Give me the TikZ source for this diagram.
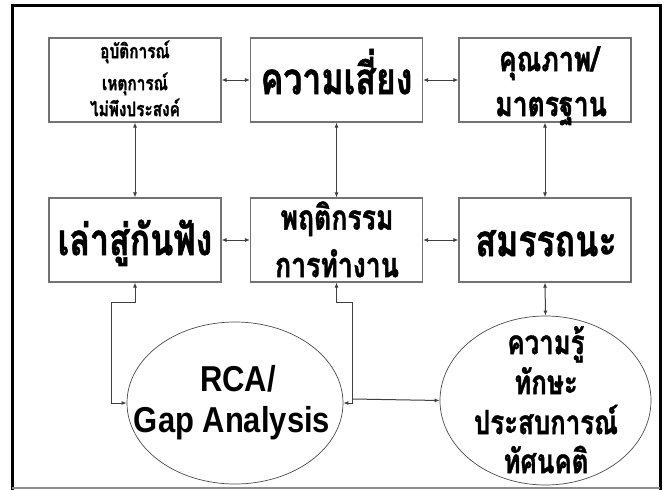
\documentclass[tikz,border=0pt]{standalone}
\usepackage{fontspec}
\usetikzlibrary{arrows.meta,shapes.geometric}
\newfontfamily\thai[Script=Thai,FakeStretch=0.77,BoldFeatures={FakeBold=1.2}]{Loma}
\newfontfamily\arialc[FakeStretch=0.86]{Liberation Sans}
\tikzset{
  x=1pt,y=-1pt,
  boxst/.style={draw=black!55,line width=1.1pt,minimum width=172pt,minimum height=84pt,inner sep=0pt},
  ellst/.style={draw=black!70,line width=0.7pt,ellipse,inner sep=0pt},
  txt/.style={inner sep=0pt,anchor=mid},
  conn/.style={draw=black!75,line width=1pt},
  tip/.tip={Latex[length=5pt,width=4pt]},
  dbl/.style={conn,tip-tip},
  sgl/.style={conn,-tip},
  bigt/.style={txt,font=\thai\bfseries\fontsize{44}{48}\selectfont},
  midt/.style={txt,font=\thai\bfseries\fontsize{34.5}{40}\selectfont},
  smallt/.style={txt,font=\thai\bfseries\fontsize{20}{24}\selectfont},
  ellt/.style={txt,font=\thai\bfseries\fontsize{33.5}{40}\selectfont},
  latt/.style={inner sep=0pt,anchor=base,font=\arialc\bfseries\fontsize{36}{44}\selectfont},
}
\begin{document}
\begin{tikzpicture}
\useasboundingbox (0,0) rectangle (665,490);
\fill[white] (0,0) rectangle (665,490);
% frame
\draw[line width=3pt,line cap=rect] (12,490) -- (12,5) -- (660,5) -- (660,490);
\draw[black!45,line width=1.5pt] (12,488) -- (660,488);
% boxes
\node[boxst] (tl) at (135,80) {};
\node[boxst] (tm) at (336.5,80) {};
\node[boxst] (tr) at (545,80) {};
\node[boxst] (ml) at (135,240) {};
\node[boxst] (mm) at (336.5,240) {};
\node[boxst] (mr) at (545,240) {};
\node[smallt] (tlt1) at (135,56) {อุบัติการณ์};
\node[smallt] (tlt2) at (135,88) {เหตุการณ์};
\node[smallt] (tlt3) at (135,114) {ไม่พึงประสงค์};
\node[bigt] (tmt) at (336.5,92) {ความเสี่ยง};
\node[midt] (trt1) at (549,69) {คุณภาพ/};
\node[midt] (trt2) at (551,114) {มาตรฐาน};
\node[bigt] (mlt) at (135,253) {เล่าสู่กันฟัง};
\node[midt] (mmt1) at (337,227.5) {พฤติกรรม};
\node[midt] (mmt2) at (337,275) {การทำงาน};
\node[bigt] (mrt) at (546,254) {สมรรถนะ};
% ellipses
\node[ellst,minimum width=216pt,minimum height=162pt] (rca) at (235,403) {};
\node[latt] (rcat1) at (238,391) {RCA/};
\node[latt] (rcat2) at (232,432) {Gap Analysis};
\node[ellst,minimum width=211pt,minimum height=169pt] (ksa) at (545.5,400.5) {};
\node[ellt] (ksat1) at (546,352) {ความรู้};
\node[ellt] (ksat2) at (546,392) {ทักษะ};
\node[ellt] (ksat3) at (546,432) {ประสบการณ์};
\node[ellt] (ksat4) at (546,471) {ทัศนคติ};
% connectors
\draw[dbl] (tl) -- (tm);
\draw[dbl] (tm) -- (tr);
\draw[dbl] (ml) -- (mm);
\draw[dbl] (mm) -- (mr);
\draw[dbl] (tl) -- (ml);
\draw[dbl] (tm) -- (mm);
\draw[dbl] (tr) -- (mr);
\coordinate (c1) at (111,302);
\coordinate (c2) at (352.7,302);
\coordinate (c3) at (352.7,399);
\draw[dbl] (ml.south) |- (c1) |- (rca.west);
\draw[dbl] (mm.south) |- (c2) |- (rca.east);
\draw[sgl] (c3) -- (ksa.west);
\draw[dbl] (mr.south) -- (ksa.north);
\end{tikzpicture}
\end{document}
